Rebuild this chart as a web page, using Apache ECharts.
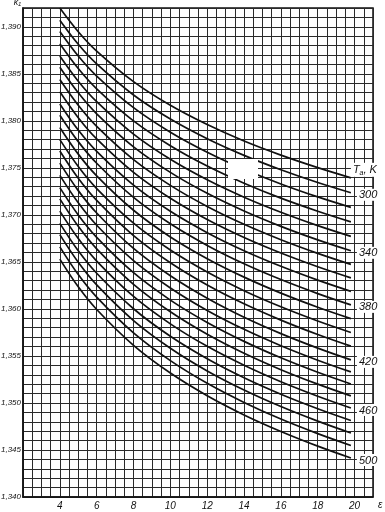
<!DOCTYPE html>
<html><head><meta charset="utf-8">
<script src="https://cdn.jsdelivr.net/npm/echarts@6/dist/echarts.min.js"></script>
<style>html,body{margin:0;padding:0;background:#fff}#c{width:385px;height:512px}</style>
</head><body><div id="c"></div>
<script>
// compression ratio (x) sample points at which curves were read
const epsilon = [4, 5, 6, 8, 10, 12, 14, 16, 18, 19.8];
// air temperature of each curve, K
const temperatures = [290,300,310,320,330,340,350,360,370,380,390,400,410,420,430,440,450,460,470,480,490,500];
const labelledTemps = [300, 340, 380, 420, 460, 500];
// k1 values at the epsilon points
const k290 = [1.3920,1.38948,1.38742,1.38417,1.38165,1.37960,1.37785,1.37635,1.37502,1.37394];
const k300 = [1.3907,1.38814,1.38605,1.38275,1.38019,1.37810,1.37633,1.37480,1.37344,1.37235];
const k310 = [1.3895,1.38689,1.38476,1.38140,1.37879,1.37666,1.37485,1.37329,1.37191,1.37080];
const k320 = [1.3882,1.38556,1.38340,1.37999,1.37735,1.37519,1.37337,1.37178,1.37039,1.36926];
const k330 = [1.3869,1.38422,1.38204,1.37859,1.37591,1.37373,1.37188,1.37028,1.36886,1.36772];
const k340 = [1.3857,1.38298,1.38075,1.37724,1.37452,1.37229,1.37041,1.36878,1.36734,1.36618];
const k350 = [1.3844,1.38166,1.37942,1.37588,1.37314,1.37090,1.36900,1.36736,1.36591,1.36474];
const k360 = [1.3831,1.38034,1.37808,1.37452,1.37176,1.36950,1.36759,1.36594,1.36448,1.36330];
const k370 = [1.3818,1.37902,1.37675,1.37316,1.37038,1.36811,1.36619,1.36453,1.36306,1.36187];
const k380 = [1.3806,1.37779,1.37549,1.37186,1.36905,1.36675,1.36480,1.36312,1.36163,1.36043];
const k390 = [1.3793,1.37646,1.37415,1.37049,1.36765,1.36534,1.36338,1.36168,1.36018,1.35897];
const k400 = [1.3780,1.37514,1.37280,1.36912,1.36626,1.36392,1.36194,1.36023,1.35872,1.35750];
const k410 = [1.3768,1.37390,1.37154,1.36780,1.36491,1.36254,1.36054,1.35881,1.35728,1.35604];
const k420 = [1.3755,1.37258,1.37020,1.36643,1.36352,1.36113,1.35911,1.35737,1.35583,1.35458];
const k430 = [1.3742,1.37128,1.36890,1.36514,1.36223,1.35984,1.35783,1.35609,1.35455,1.35330];
const k440 = [1.3729,1.36999,1.36761,1.36385,1.36094,1.35856,1.35655,1.35480,1.35326,1.35202];
const k450 = [1.3717,1.36878,1.36639,1.36262,1.35970,1.35731,1.35529,1.35354,1.35200,1.35075];
const k460 = [1.3704,1.36748,1.36509,1.36133,1.35841,1.35602,1.35401,1.35226,1.35072,1.34947];
const k470 = [1.3691,1.36618,1.36379,1.36002,1.35709,1.35470,1.35268,1.35093,1.34939,1.34814];
const k480 = [1.3679,1.36496,1.36255,1.35876,1.35582,1.35341,1.35138,1.34962,1.34807,1.34681];
const k490 = [1.3666,1.36365,1.36125,1.35745,1.35450,1.35209,1.35006,1.34829,1.34674,1.34548];
const k500 = [1.3653,1.36235,1.35994,1.35613,1.35318,1.35077,1.34873,1.34697,1.34541,1.34415];
const curveValues = [k290,k300,k310,k320,k330,k340,k350,k360,k370,k380,k390,k400,k410,k420,k430,k440,k450,k460,k470,k480,k490,k500];
// axis tick labels
const xTickLabels = [4, 6, 8, 10, 12, 14, 16, 18, 20];
const yTickLabels = ['1,340','1,345','1,350','1,355','1,360','1,365','1,370','1,375','1,380','1,385','1,390'];

const FONT = '"Liberation Sans", Arial, sans-serif';
const chart = echarts.init(document.getElementById('c'), null, {renderer: 'canvas'});

const series = temperatures.map((T, i) => {
  const isHead = i === 0;
  const labelled = labelledTemps.indexOf(T) >= 0;
  return {
    type: 'line',
    name: String(T),
    data: epsilon.map((e, j) => [e, curveValues[i][j]]),
    symbol: 'none',
    smooth: 0.35,
    silent: true,
    lineStyle: {color: '#111', width: 1.7},
    z: 3,
    endLabel: {
      show: isHead || labelled,
      formatter: isHead ? 'T{sub|a}, K' : String(T),
      rich: {sub: {fontSize: 7, fontStyle: 'italic', fontFamily: FONT, color: '#111', verticalAlign: 'bottom', padding: [6, 0, 0, 0]}},
      fontFamily: FONT, fontStyle: 'italic', fontSize: 11, color: '#111',
      backgroundColor: '#fff', padding: [1, 2, 0, 2],
      distance: isHead ? 0 : 6,
      offset: isHead ? [0, -8] : [0, 2]
    }
  };
});

chart.setOption({
  animation: false,
  backgroundColor: '#fff',
  grid: {left: 23, right: 12, top: 8, bottom: 15, containLabel: false, outerBoundsMode: 'none',
         show: true, borderColor: '#111', borderWidth: 1.5, backgroundColor: 'transparent'},
  xAxis: {
    type: 'value', min: 2, max: 21, interval: 0.5,
    axisLine: {show: true, lineStyle: {color: '#111', width: 1.5}},
    axisTick: {show: false},
    splitLine: {show: true, lineStyle: {color: '#2a2a2a', width: 1}},
    axisLabel: {
      formatter: v => { const r = Math.round(v * 2) / 2; return (xTickLabels.indexOf(r) >= 0) ? String(r) : ''; },
      fontFamily: FONT, fontStyle: 'italic', fontSize: 10, color: '#111', margin: 4
    },
    name: 'ε', nameLocation: 'end', nameGap: 5,
    nameTextStyle: {fontFamily: FONT, fontStyle: 'italic', fontSize: 10, color: '#111', verticalAlign: 'top', padding: [3, 0, 0, 0]}
  },
  yAxis: {
    type: 'value', min: 1.340, max: 1.392, interval: 0.001,
    axisLine: {show: true, lineStyle: {color: '#111', width: 1.5}},
    axisTick: {show: false},
    splitLine: {show: true, lineStyle: {color: '#2a2a2a', width: 1}},
    axisLabel: {
      formatter: v => { const m = Math.round(v * 1000); if (m % 5 !== 0) return ''; const s = (m / 1000).toFixed(3).replace('.', ','); return yTickLabels.indexOf(s) >= 0 ? s : ''; },
      fontFamily: FONT, fontStyle: 'italic', fontSize: 8, color: '#111', margin: 2
    },
    name: 'k₁', nameLocation: 'end', nameGap: 1,
    nameTextStyle: {fontFamily: FONT, fontStyle: 'italic', fontSize: 9, color: '#111', align: 'right', padding: [0, 2, 0, 0]}
  },
  graphic: [{type: 'rect', shape: {x: 228, y: 159, width: 30, height: 20}, style: {fill: '#fff'}, z: 10}],
  series: series
});
</script></body></html>
